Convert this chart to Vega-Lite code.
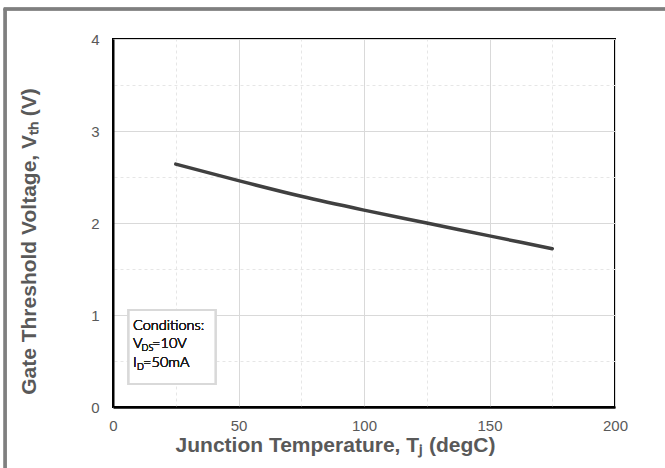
{
  "$schema": "https://vega.github.io/schema/vega-lite/v6.json",
  "width": 502,
  "height": 368,
  "autosize": "none",
  "padding": {"left": 113, "top": 39, "right": 50, "bottom": 61},
  "background": "white",
  "config": {
    "view": {"stroke": "black", "strokeWidth": 2},
    "font": "Liberation Sans"
  },
  "data": {"values": [
    {"T": 25, "V": 2.64},
    {"T": 50, "V": 2.46},
    {"T": 75, "V": 2.29},
    {"T": 100, "V": 2.14},
    {"T": 125, "V": 2.0},
    {"T": 150, "V": 1.86},
    {"T": 175, "V": 1.72}
  ]},
  "layer": [
    {
      "mark": {"type": "rule", "strokeWidth": 0},
      "encoding": {
        "x": {"datum": 0, "type": "quantitative", "scale": {"domain": [0, 200]},
          "axis": {"orient": "top", "values": [25, 75, 125, 175], "labels": false, "ticks": false, "domain": false, "title": null,
            "grid": true, "gridColor": "#e6e6e6", "gridDash": [3, 3], "gridWidth": 1}},
        "y": {"datum": 0, "type": "quantitative", "scale": {"domain": [0, 4]},
          "axis": {"orient": "right", "values": [0.5, 1.5, 2.5, 3.5], "labels": false, "ticks": false, "domain": false, "title": null,
            "grid": true, "gridColor": "#e6e6e6", "gridDash": [3, 3], "gridWidth": 1}}
      }
    },
    {
      "mark": {"type": "line", "color": "#404040", "strokeWidth": 3.5, "interpolate": "monotone", "strokeCap": "round"},
      "encoding": {
        "x": {"field": "T", "type": "quantitative", "scale": {"domain": [0, 200]},
          "axis": {"orient": "bottom", "values": [0, 50, 100, 150, 200], "ticks": false, "domain": true, "domainColor": "black", "domainWidth": 2.5,
            "grid": true, "gridColor": "#d9d9d9", "gridWidth": 1, "labelFlush": false,
            "labelFont": "Liberation Sans", "labelFontSize": 15, "labelColor": "#595959", "labelPadding": 11,
            "title": "Junction Temperature, Tⱼ (degC)", "titleFont": "Liberation Sans", "titleFontSize": 21, "titleFontWeight": "bold", "titleColor": "#595959",
            "titleX": 222, "titleAlign": "center", "titlePadding": 1}},
        "y": {"field": "V", "type": "quantitative", "scale": {"domain": [0, 4]},
          "axis": {"orient": "left", "values": [0, 1, 2, 3, 4], "ticks": false, "domain": true, "domainColor": "black", "domainWidth": 2,
            "grid": true, "gridColor": "#d9d9d9", "gridWidth": 1, "labelFlush": false,
            "labelFont": "Liberation Sans", "labelFontSize": 15, "labelColor": "#595959", "labelPadding": 14,
            "title": "Gate Threshold Voltage, Vₜₕ (V)", "titleFont": "Liberation Sans", "titleFontSize": 21, "titleFontWeight": "bold", "titleColor": "#595959",
            "titleX": -74, "titleY": 202, "titleAngle": -90, "titleBaseline": "bottom", "titleAlign": "center"}}
      }
    },
    {
      "mark": {"type": "rect", "fill": "white", "stroke": "#d9d9d9", "strokeWidth": 2},
      "encoding": {
        "x": {"datum": 6.25, "type": "quantitative", "axis": null},
        "x2": {"datum": 40.8},
        "y": {"datum": 1.054, "type": "quantitative", "axis": null},
        "y2": {"datum": 0.25}
      }
    },
    {
      "mark": {"type": "text", "align": "left", "baseline": "alphabetic", "font": "Lato", "fontWeight": 300, "fontSize": 14.5, "color": "#1f1f1f"},
      "encoding": {
        "x": {"datum": 8.0, "type": "quantitative", "axis": null},
        "y": {"datum": 0.837, "type": "quantitative", "axis": null},
        "text": {"value": "Conditions:"}
      }
    },
    {
      "mark": {"type": "text", "align": "left", "baseline": "alphabetic", "font": "Lato", "fontWeight": 300, "fontSize": 14.5, "color": "#1f1f1f"},
      "encoding": {
        "x": {"datum": 8.0, "type": "quantitative", "axis": null},
        "y": {"datum": 0.641, "type": "quantitative", "axis": null},
        "text": {"value": "V"}
      }
    },
    {
      "mark": {"type": "text", "align": "left", "baseline": "alphabetic", "font": "Lato", "fontWeight": 300, "fontSize": 9, "color": "#1f1f1f", "dx": 8.5, "dy": 3},
      "encoding": {
        "x": {"datum": 8.0, "type": "quantitative", "axis": null},
        "y": {"datum": 0.641, "type": "quantitative", "axis": null},
        "text": {"value": "DS"}
      }
    },
    {
      "mark": {"type": "text", "align": "left", "baseline": "alphabetic", "font": "Lato", "fontWeight": 300, "fontSize": 14.5, "color": "#1f1f1f", "dx": 19},
      "encoding": {
        "x": {"datum": 8.0, "type": "quantitative", "axis": null},
        "y": {"datum": 0.641, "type": "quantitative", "axis": null},
        "text": {"value": "=10V"}
      }
    },
    {
      "mark": {"type": "text", "align": "left", "baseline": "alphabetic", "font": "Lato", "fontWeight": 300, "fontSize": 14.5, "color": "#1f1f1f"},
      "encoding": {
        "x": {"datum": 8.0, "type": "quantitative", "axis": null},
        "y": {"datum": 0.438, "type": "quantitative", "axis": null},
        "text": {"value": "I"}
      }
    },
    {
      "mark": {"type": "text", "align": "left", "baseline": "alphabetic", "font": "Lato", "fontWeight": 300, "fontSize": 9, "color": "#1f1f1f", "dx": 4, "dy": 3},
      "encoding": {
        "x": {"datum": 8.0, "type": "quantitative", "axis": null},
        "y": {"datum": 0.438, "type": "quantitative", "axis": null},
        "text": {"value": "D"}
      }
    },
    {
      "mark": {"type": "text", "align": "left", "baseline": "alphabetic", "font": "Lato", "fontWeight": 300, "fontSize": 14.5, "color": "#1f1f1f", "dx": 10},
      "encoding": {
        "x": {"datum": 8.0, "type": "quantitative", "axis": null},
        "y": {"datum": 0.438, "type": "quantitative", "axis": null},
        "text": {"value": "=50mA"}
      }
    },
    {
      "mark": {"type": "rule", "color": "#7f7f7f", "strokeWidth": 2.5},
      "encoding": {
        "x": {"datum": -43.0, "type": "quantitative", "axis": null},
        "y": {"datum": 4.326, "type": "quantitative", "axis": null},
        "y2": {"datum": -0.7}
      }
    },
    {
      "mark": {"type": "rule", "color": "#7f7f7f", "strokeWidth": 2.5},
      "encoding": {
        "x": {"datum": -43.5, "type": "quantitative", "axis": null},
        "x2": {"datum": 222},
        "y": {"datum": 4.326, "type": "quantitative", "axis": null}
      }
    }
  ],
  "resolve": {"axis": {"x": "independent", "y": "independent"}}
}
